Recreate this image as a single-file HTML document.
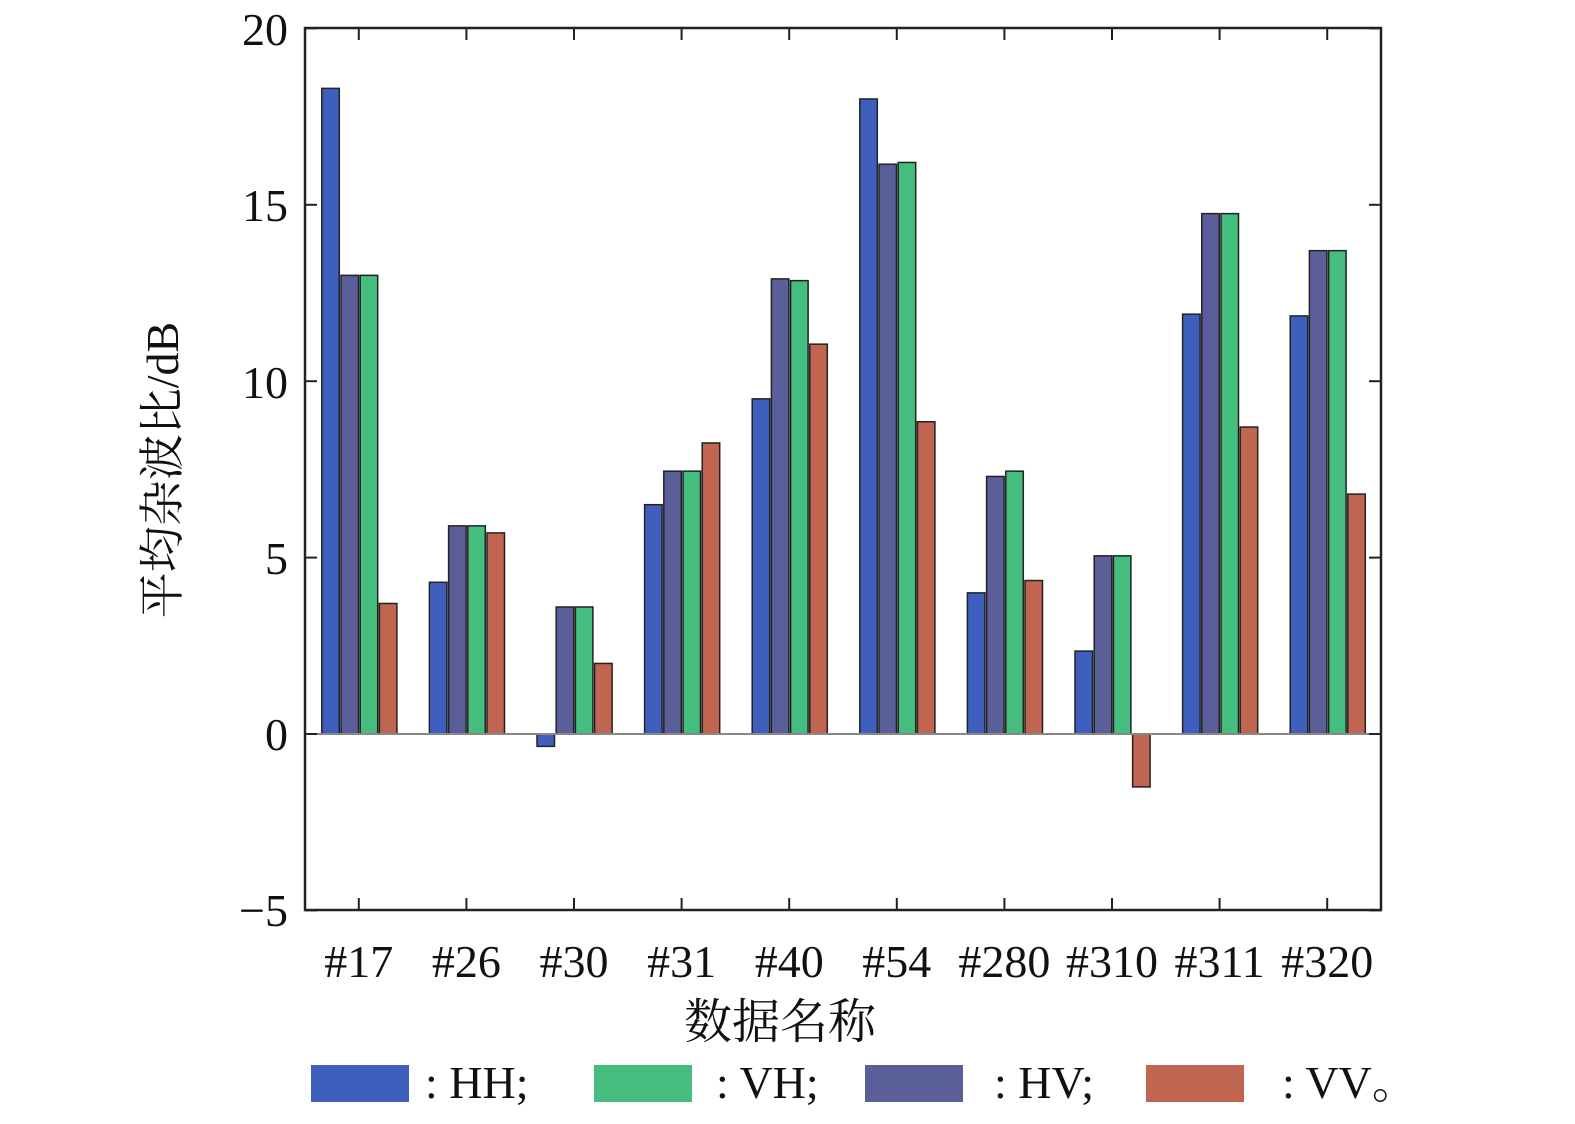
<!DOCTYPE html>
<html><head><meta charset="utf-8"><style>
body{margin:0;background:#fff;}
svg text{font-family:"Liberation Serif","Noto Serif CJK SC",serif;fill:#111;}
</style></head><body>
<svg width="1575" height="1119" xmlns="http://www.w3.org/2000/svg">
<g id="bars" stroke="#222" stroke-width="1.5"></g>
<line x1="305" y1="734" x2="1381" y2="734" stroke="#888" stroke-width="2"/>
<rect x="305" y="28" width="1076" height="882" fill="none" stroke="#222" stroke-width="2.5"/>
<g id="ticks" stroke="#222" stroke-width="2"></g>
<g font-size="46" text-anchor="end">
<text x="288" y="45">20</text><text x="288" y="221">15</text><text x="288" y="398">10</text>
<text x="288" y="574">5</text><text x="288" y="750">0</text><text x="288" y="926">−5</text>
</g>
<g id="xl" font-size="46" text-anchor="middle"></g>
<text x="0" y="0" font-size="46" text-anchor="middle" transform="translate(178,470) rotate(-90)">平均杂波比/dB</text>
<text x="780" y="1038" font-size="48" text-anchor="middle">数据名称</text>
<rect x="311" y="1065" width="98" height="37" fill="#3f5fbf"/>
<text x="425" y="1098" font-size="46">: HH;</text>
<rect x="594" y="1065" width="98" height="37" fill="#45bd7e"/>
<text x="716" y="1098" font-size="46">: VH;</text>
<rect x="865" y="1065" width="98" height="37" fill="#5a5f9a"/>
<text x="994" y="1098" font-size="46">: HV;</text>
<rect x="1146" y="1065" width="98" height="37" fill="#c0654f"/>
<text x="1282" y="1098" font-size="46">: VV。</text>
</svg>
<script>
const ns="http://www.w3.org/2000/svg";
const names=["#17","#26","#30","#31","#40","#54","#280","#310","#311","#320"];
const vals=[[18.3,13,13,3.7],[4.3,5.9,5.9,5.7],[-0.35,3.6,3.6,2.0],[6.5,7.45,7.45,8.25],[9.5,12.9,12.85,11.05],[18,16.15,16.2,8.85],[4,7.3,7.45,4.35],[2.35,5.05,5.05,-1.5],[11.9,14.75,14.75,8.7],[11.85,13.7,13.7,6.8]];
const cols=["#3f5fbf","#5a5f9a","#45bd7e","#c0654f"];
const y=v=>734-v*35.28;
const g=document.getElementById("bars"),t=document.getElementById("ticks"),xl=document.getElementById("xl");
function el(p,n,a){const e=document.createElementNS(ns,n);for(const k in a)e.setAttribute(k,a[k]);p.appendChild(e);return e;}
names.forEach((n,i)=>{const c=305+107.6*(i+0.5);
 vals[i].forEach((v,j)=>{const x=c-37+j*19.2;el(g,"rect",{x:x,y:Math.min(y(v),734),width:17.5,height:Math.abs(y(v)-734),fill:cols[j]});});
 el(t,"line",{x1:c,y1:910,x2:c,y2:898});el(t,"line",{x1:c,y1:28,x2:c,y2:40});
 const tx=el(xl,"text",{x:c,y:977});tx.textContent=n;});
for(let v=-5;v<=20;v+=5){el(t,"line",{x1:305,y1:y(v),x2:317,y2:y(v)});el(t,"line",{x1:1381,y1:y(v),x2:1369,y2:y(v)});}
</script>
</body></html>
